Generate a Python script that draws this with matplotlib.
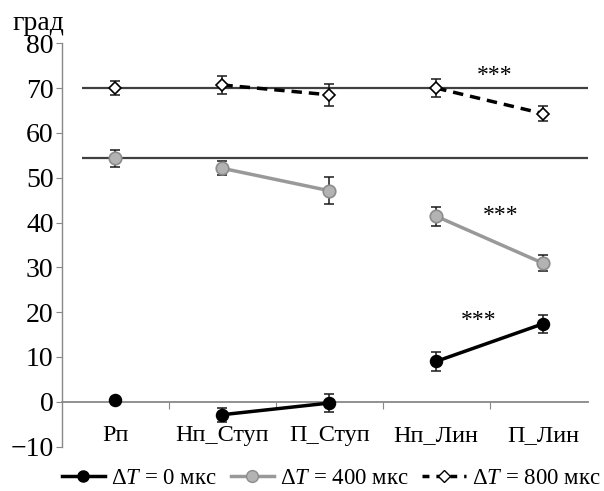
import matplotlib
matplotlib.use("Agg")
import matplotlib.pyplot as plt
import numpy as np
from matplotlib.lines import Line2D

plt.rcParams['font.family'] = ['Liberation Serif', 'DejaVu Serif']
plt.rcParams['mathtext.fontset'] = 'custom'
plt.rcParams['mathtext.rm'] = 'Liberation Serif'
plt.rcParams['mathtext.it'] = 'Liberation Serif:italic'

categories = ["Рп", "Нп_Ступ", "П_Ступ", "Нп_Лин", "П_Лин"]
s0_vals = [0.3, -2.9, -0.3, 9.0, 17.4]
s0_err = [0.5, 1.6, 2.1, 2.1, 2.0]
s400_vals = [54.3, 52.1, 47.1, 41.4, 30.9]
s400_err = [1.9, 1.6, 3.0, 2.1, 1.8]
s800_vals = [70.0, 70.7, 68.5, 70.0, 64.3]
s800_err = [1.6, 2.0, 2.5, 2.0, 1.7]
ref_lines = [70.0, 54.4]
legend_labels = ["Δ$T$ = 0 мкс", "Δ$T$ = 400 мкс", "Δ$T$ = 800 мкс"]
sig_label = "***"
sig_pos = [(3.55, 72.9), (3.6, 41.5), (3.4, 18.1)]
y_unit = "град"

fig = plt.figure(figsize=(6.04, 4.91), dpi=100)
ax = fig.add_axes([62/604, 1-446.5/491, (588-62)/604, (446.5-43.3)/491])

x = np.arange(len(categories))
groups = [[0], [1, 2], [3, 4]]

for yv in ref_lines:
    ax.hlines(yv, -0.31, 4.42, color='#404040', lw=1.6, zorder=2)

def draw_series(vals, err, color, ls, marker, mfc, mec, ms, lw):
    vals = np.array(vals); err = np.array(err)
    for g in groups:
        ax.plot(x[g], vals[g], color=color, ls=ls, lw=lw, zorder=3)
    ax.errorbar(x, vals, yerr=err, fmt='none', ecolor='#1a1a1a', elinewidth=1.1,
                capsize=3.5, capthick=1.1, zorder=4)
    ax.plot(x, vals, ls='none', marker=marker, mfc=mfc, mec=mec, ms=ms, mew=1.2, zorder=5)

draw_series(s0_vals, s0_err, 'black', '-', 'o', 'black', 'black', 8.5, 2.5)
draw_series(s400_vals, s400_err, '#999999', '-', 'o', '#b3b3b3', '#8c8c8c', 9, 2.5)
draw_series(s800_vals, s800_err, 'black', (0, (3, 2)), 'D', 'white', 'black', 6.5, 2.5)

for (sx, sy) in sig_pos:
    ax.text(sx, sy, sig_label, ha='center', va='center', fontsize=17)

ax.set_xlim(-0.5, 4.42)
ax.set_ylim(-10, 80)
ax.set_yticks(np.arange(-10, 81, 10))
ax.set_yticklabels(["−10" if v < 0 else str(v) for v in range(-10, 81, 10)], fontsize=20)

ax.spines['top'].set_visible(False)
ax.spines['right'].set_visible(False)
ax.spines['left'].set_color('#888888')
ax.spines['bottom'].set_color('#888888')
ax.spines['bottom'].set_position(('data', 0))
ax.spines['left'].set_linewidth(1.0)
ax.spines['bottom'].set_linewidth(1.3)

ax.set_xticks(x[:-1] + 0.5)
ax.set_xticklabels([])
ax.set_xticks(x, minor=True)
ax.set_xticklabels(categories, minor=True, fontsize=17.5)
ax.tick_params(axis='x', which='major', length=5, color='#888888', direction='out')
ax.tick_params(axis='x', which='minor', length=0, pad=17)
ax.tick_params(axis='y', length=4, color='#888888', pad=2)

fig.text(0.02, 0.952, y_unit, fontsize=20, ha='left', va='center')

handles = [
    Line2D([], [], color='black', lw=2.5, marker='o', mfc='black', mec='black', ms=8),
    Line2D([], [], color='#999999', lw=2.5, marker='o', mfc='#b3b3b3', mec='#8c8c8c', ms=8.5),
    Line2D([], [], color='black', lw=2.5, ls=(0, (2, 2)), marker='D', mfc='white', mec='black', ms=6),
]
fig.legend(handles, legend_labels, loc='center', bbox_to_anchor=(0.548, 0.026), ncol=3,
           frameon=False, fontsize=16.5, handlelength=1.9, handletextpad=0.25, columnspacing=0.6,
           borderaxespad=0)

fig.savefig("out.png", dpi=100)
